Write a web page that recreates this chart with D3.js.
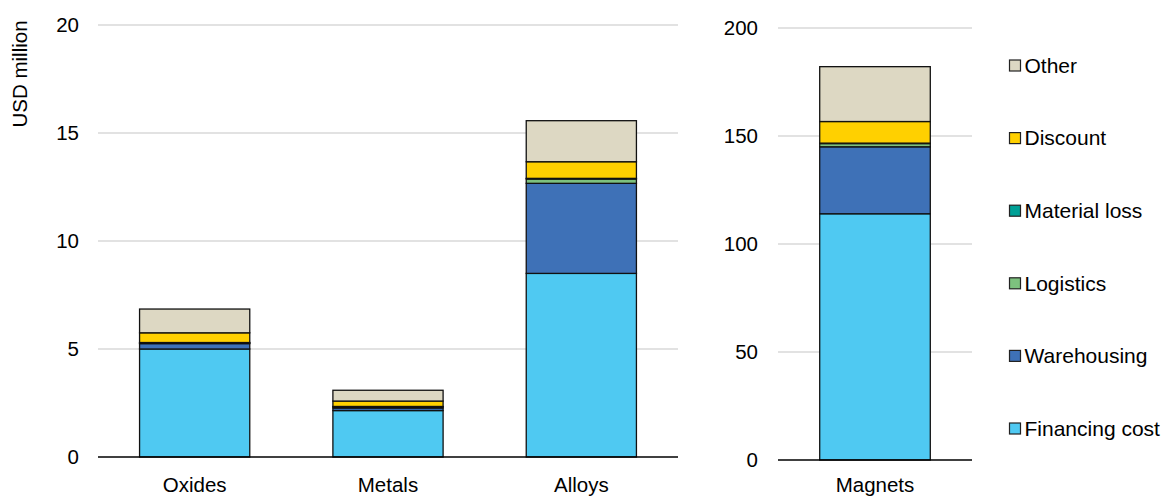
<!DOCTYPE html>
<html>
<head>
<meta charset="utf-8">
<script src="https://cdn.jsdelivr.net/npm/d3@7"></script>
<style>
  html, body { margin: 0; padding: 0; background: #fff; }
  text { font-family: "Liberation Sans", Arial, sans-serif; fill: #000; }
</style>
</head>
<body>
<svg id="chart" width="1164" height="497"></svg>
<script>
// ---- data ----
const seriesNames = ["Financing cost", "Warehousing", "Logistics", "Material loss", "Discount", "Other"];
const seriesColors = ["#4FC9F2", "#3E71B7", "#7DC17E", "#00A096", "#FFD000", "#DDD8C3"];
const leftCategories = ["Oxides", "Metals", "Alloys"];
const rightCategories = ["Magnets"];
const financing   = [5.0, 2.15, 8.5, 114];
const warehousing = [0.25, 0.12, 4.17, 31];
const logistics   = [0.03, 0.05, 0.2, 1.5];
const materialLoss = [0.02, 0.02, 0.03, 0.2];
const discount    = [0.45, 0.25, 0.77, 10];
const other       = [1.1, 0.5, 1.9, 25.4];
const leftTicks = [0, 5, 10, 15, 20];
const rightTicks = [0, 50, 100, 150, 200];
const yAxisTitle = "USD million";

const allCats = leftCategories.concat(rightCategories);
const seriesValues = [financing, warehousing, logistics, materialLoss, discount, other];
const rows = allCats.map((c, i) => {
  const r = { cat: c };
  seriesNames.forEach((s, j) => r[s] = seriesValues[j][i]);
  return r;
});

const svg = d3.select("#chart");
const FS = "20.5px";
const stack = d3.stack().keys(seriesNames);

function panel(cats, ticks, xRange, yTop, yBottom, tickX, catOffset) {
  const data = rows.filter(r => cats.includes(r.cat));
  const x = d3.scaleBand().domain(cats).range(xRange).paddingInner(0.43).paddingOuter(0.215);
  const y = d3.scaleLinear().domain([0, ticks[ticks.length - 1]]).range([yBottom, yTop]);
  const g = svg.append("g");
  // gridlines
  g.selectAll("line.grid").data(ticks.filter(t => t !== 0)).enter().append("line")
    .attr("x1", xRange[0]).attr("x2", xRange[1])
    .attr("y1", d => y(d)).attr("y2", d => y(d))
    .attr("stroke", "#D9D9D9").attr("stroke-width", 1.3);
  // tick labels
  g.selectAll("text.tick").data(ticks).enter().append("text")
    .attr("x", tickX).attr("y", d => y(d)).attr("dy", "0.35em")
    .attr("text-anchor", "end").style("font-size", FS).text(d => d);
  // bars
  const stacked = stack(data);
  stacked.forEach((layer, li) => {
    g.selectAll(null).data(layer).enter().append("rect")
      .attr("x", d => x(d.data.cat))
      .attr("width", x.bandwidth())
      .attr("y", d => y(d[1]))
      .attr("height", d => Math.max(0, y(d[0]) - y(d[1])))
      .attr("fill", seriesColors[li])
      .attr("stroke", "#111").attr("stroke-width", 1.3);
  });
  // baseline
  g.append("line").attr("x1", xRange[0]).attr("x2", xRange[1])
    .attr("y1", y(0)).attr("y2", y(0)).attr("stroke", "#000").attr("stroke-width", 1.5);
  // category labels
  g.selectAll("text.cat").data(cats).enter().append("text")
    .attr("x", d => x(d) + x.bandwidth() / 2).attr("y", yBottom + catOffset)
    .attr("text-anchor", "middle").style("font-size", FS).text(d => d);
  return { x, y };
}

panel(leftCategories, leftTicks, [98, 678], 25, 457, 79, 35);
panel(rightCategories, rightTicks, [778, 972], 28, 460, 758, 32);

// y axis title
svg.append("text").attr("transform", "translate(27,74) rotate(-90)")
  .attr("text-anchor", "middle").style("font-size", FS).text(yAxisTitle);

// legend (top: Other ... bottom: Financing cost)
const legendOrder = seriesNames.map((s, i) => ({ s, c: seriesColors[i] })).reverse();
const lg = svg.append("g");
const ly = d3.scalePoint().domain(legendOrder.map(d => d.s)).range([65.5, 428.5]);
legendOrder.forEach(d => {
  lg.append("rect").attr("x", 1009.5).attr("y", ly(d.s) - 5.5).attr("width", 11).attr("height", 11)
    .attr("fill", d.c).attr("stroke", "#222").attr("stroke-width", 1.2);
  lg.append("text").attr("x", 1024.5).attr("y", ly(d.s)).attr("dy", "0.35em")
    .style("font-size", "21px").text(d.s);
});
</script>
</body>
</html>
